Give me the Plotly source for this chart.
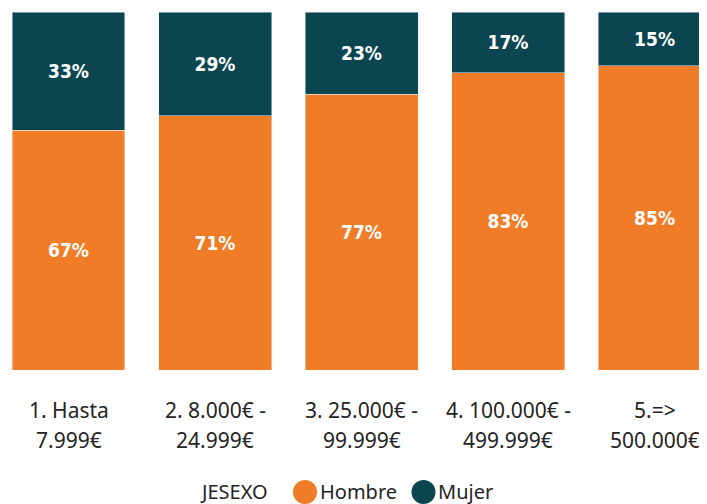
import plotly.graph_objects as go

tick_line1 = ["1. Hasta", "2. 8.000€ -", "3. 25.000€ -", "4. 100.000€ -", "5.=>"]
tick_line2 = ["7.999€", "24.999€", "99.999€", "499.999€", "500.000€"]
categories = [a + " " + b for a, b in zip(tick_line1, tick_line2)]
series_names = ["Hombre", "Mujer"]
hombre = [67, 71, 77, 83, 85]
mujer = [33, 29, 23, 17, 15]
legend_title = "JESEXO"

orange = "#F07C27"
teal = "#0B4650"
text_color = "#252423"
label_font = dict(family="DejaVu Sans Condensed, DejaVu Sans", size=19, color="white", weight="bold")
tick_font = dict(family="Noto Sans", size=21, color=text_color)

W, H = 699, 496
L, R, T, B = 0, 0, 4, 134
plot_h = H - T - B

fig = go.Figure()
for name, vals, col in [(series_names[0], hombre, orange), (series_names[1], mujer, teal)]:
    fig.add_trace(go.Bar(x=categories, y=vals, name=name, marker_color=col,
                         texttemplate="%{y}%", textposition="inside", insidetextanchor="middle",
                         textfont=label_font, textangle=0, showlegend=False))

def py(fy):
    return (H - B - fy) / plot_h

# two-line category labels
for cat, l1, l2 in zip(categories, tick_line1, tick_line2):
    for txt, fy in [(l1, 402), (l2, 432)]:
        fig.add_annotation(x=cat, y=py(fy), xref="x", yref="paper", text=txt,
                           showarrow=False, xanchor="center", yanchor="middle", font=tick_font)

# manual legend (large circle markers)
ly = py(484)
fig.add_annotation(x=190 / W, y=ly, xref="paper", yref="paper", text=legend_title,
                   showarrow=False, xanchor="left", yanchor="middle",
                   font=dict(family="Noto Sans", size=20, color=text_color))
for name, col, cx, tx in [(series_names[0], orange, 297, 310), (series_names[1], teal, 415.5, 428)]:
    fig.add_shape(type="circle", xref="paper", yref="paper", xsizemode="pixel", ysizemode="pixel",
                  xanchor=cx / W, yanchor=ly, x0=-12, x1=12, y0=-12, y1=12,
                  fillcolor=col, line=dict(width=0))
    fig.add_annotation(x=tx / W, y=ly, xref="paper", yref="paper", text=name,
                       showarrow=False, xanchor="left", yanchor="middle",
                       font=dict(family="Noto Sans", size=20, color=text_color))

fig.update_layout(
    width=W, height=H,
    margin=dict(l=L, r=R, t=T, b=B, autoexpand=False),
    barmode="stack", bargap=0.229,
    plot_bgcolor="white", paper_bgcolor="white",
    showlegend=False,
)
fig.update_xaxes(range=[-0.413, 4.358], showgrid=False, showline=False, zeroline=False,
                 showticklabels=False, ticks="")
fig.update_yaxes(range=[0, 100], visible=False)

fig.write_html("out.html")
